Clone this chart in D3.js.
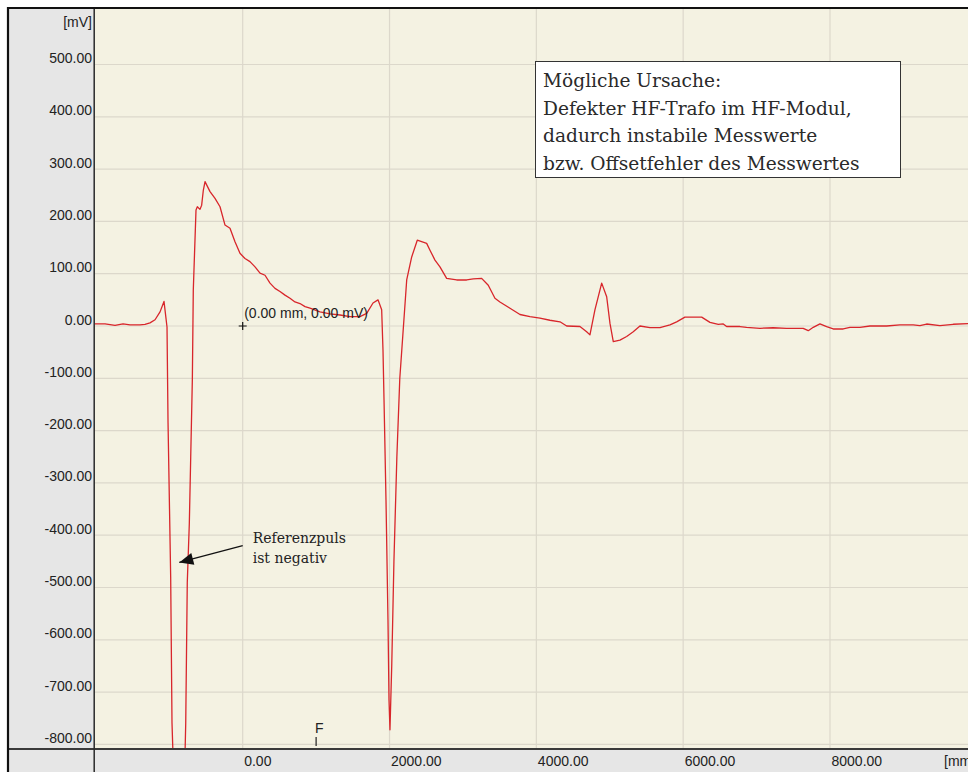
<!DOCTYPE html>
<meta charset="utf-8">
<style>
body { margin: 0; background: #fff; }
svg text { fill: #222; }
.tick-label { font: 14px "Liberation Sans", Arial, sans-serif; }
.grid line { stroke: #dcd8cb; stroke-width: 1.2; }
.note { font-family: "DejaVu Serif", serif; }
</style>
<svg width="968" height="772"></svg>
<script src="https://d3js.org/d3.v7.min.js"></script>
<script>

// echo curve
var positionMm = [-2100, -2012, -1875, -1739, -1630, -1535, -1399, -1331, -1263, -1194, -1126, -1072,
  -1031, -1017, -981, -963, -936, -810, -786, -776, -755, -727, -708, -686, -673,
  -636, -618, -582, -559, -536, -513, -445, -377, -309, -241, -173, -105, -37,
  31, 99, 168, 236, 304, 372, 440, 508, 576, 644, 712, 780, 849, 917, 1053, 1189,
  1325, 1461, 1598, 1689, 1775, 1843, 1893, 1911, 1925, 1952, 1979, 1993, 2006,
  2030, 2060, 2100, 2140, 2180, 2234, 2302, 2378, 2506, 2551, 2619, 2687, 2778,
  2915, 3051, 3141, 3255, 3345, 3436, 3504, 3641, 3777, 3913, 4049, 4185, 4322,
  4413, 4594, 4685, 4730, 4798, 4890, 4958, 5003, 5048, 5139, 5230, 5320, 5411,
  5547, 5684, 5820, 5911, 6024, 6252, 6365, 6478, 6546, 6592, 6773, 6864, 7046,
  7227, 7409, 7635, 7704, 7772, 7863, 7954, 8044, 8180, 8271, 8408, 8544, 8771,
  8952, 9134, 9225, 9316, 9497, 9678, 9879, 10200];

var amplitudeMv = [3, 4, 4, 1, 4, 2, 2, 3, 6, 12, 27, 47,
  -2, -185, -480, -759, -880, -880, -820, -759, -491, -377, -250, -103, 69,
  222, 228, 223, 231, 260, 276, 257, 244, 228, 193, 187, 161, 139,
  129, 123, 113, 101, 97, 82, 72, 66, 59, 53, 46, 43, 37, 34, 27, 23,
  21, 18, 18, 24, 44, 50, 31, -46, -141, -333, -562, -715, -772,
  -650, -450, -250, -100, -20, 88, 132, 164, 158, 145, 126, 113, 91,
  88, 88, 90, 91, 78, 53, 46, 34, 22, 18, 15, 11, 8,
  0, -1, -11, -17, 31, 82, 56, 5, -30, -27, -20, -11, 0,
  -3, -3, 2, 8, 17, 17, 7, 3, 4, -1, -1, -2.5, -4.4,
  -3.3, -4.4, -4.4, -9, -2.5, 4, -1.3, -5.7, -5.7, -2.5, -2.5, 0, 0,
  2, 2, 0.6, 3.8, 0.6, 3.3, 4.4, 3];

var xTicks = [0, 2000, 4000, 6000, 8000, 10000];
var yTicks = [500, 400, 300, 200, 100, 0, -100, -200, -300, -400, -500, -600, -700, -800];

var noteLines = ["Mögliche Ursache:", "Defekter HF-Trafo im HF-Modul,",
  "dadurch instabile Messwerte", "bzw. Offsetfehler des Messwertes"];
var arrowNote = ["Referenzpuls", "ist negativ"];

var svg = d3.select("svg");
var plot = {left: 95, top: 9, right: 968, bottom: 748};

var x = d3.scaleLinear().domain([0, 8000]).range([242.7, 830]);
var y = d3.scaleLinear().domain([-800, 500]).range([744.4, 64.5]);
var fmt = function(d) { return d.toFixed(2); };

// frame and panels
svg.append("rect").attr("x", 8).attr("y", 8).attr("width", 960).attr("height", 764)
    .attr("fill", "#e6e6e6");
svg.append("rect").attr("x", plot.left).attr("y", plot.top)
    .attr("width", plot.right - plot.left).attr("height", plot.bottom - plot.top)
    .attr("fill", "#f4f2e2");

svg.append("defs").append("clipPath").attr("id", "clip")
  .append("rect").attr("x", plot.left).attr("y", plot.top)
    .attr("width", plot.right - plot.left).attr("height", plot.bottom - plot.top);

var grid = svg.append("g").attr("class", "grid").attr("clip-path", "url(#clip)");
grid.selectAll(".gy").data(yTicks).enter().append("line")
    .attr("x1", plot.left).attr("x2", plot.right)
    .attr("y1", function(d) { return y(d); }).attr("y2", function(d) { return y(d); });
grid.selectAll(".gx").data(xTicks).enter().append("line")
    .attr("y1", plot.top).attr("y2", plot.bottom)
    .attr("x1", function(d) { return x(d); }).attr("x2", function(d) { return x(d); });

// dividers and outer frame
svg.append("line").attr("x1", 8).attr("x2", 968).attr("y1", 749).attr("y2", 749)
    .attr("stroke", "#3a3a3a").attr("stroke-width", 2);
svg.append("line").attr("x1", 94.2).attr("x2", 94.2).attr("y1", 8).attr("y2", 772)
    .attr("stroke", "#2a2a2a").attr("stroke-width", 1.5);
svg.append("path").attr("d", "M8,772V8H968")
    .attr("fill", "none").attr("stroke", "#111").attr("stroke-width", 2.2);

// axis labels
svg.selectAll(".ylab").data(yTicks).enter().append("text")
    .attr("class", "tick-label")
    .attr("x", 92).attr("y", function(d) { return y(d) - 1.5; })
    .attr("text-anchor", "end")
    .text(fmt);
svg.append("text").attr("class", "tick-label").attr("x", 92).attr("y", 27)
    .attr("text-anchor", "end").text("[mV]");

svg.selectAll(".xlab").data(xTicks.slice(0, 5)).enter().append("text")
    .attr("class", "tick-label")
    .attr("x", function(d) { return x(d) + 1.5; }).attr("y", 766)
    .text(fmt);
svg.append("text").attr("class", "tick-label").attr("x", 944).attr("y", 766).text("[mm]");

// echo curve
var points = positionMm.map(function(d, i) { return [d, amplitudeMv[i]]; });
svg.append("path").datum(points)
    .attr("clip-path", "url(#clip)")
    .attr("fill", "none").attr("stroke", "#d8262b").attr("stroke-width", 1.3)
    .attr("stroke-linejoin", "round")
    .attr("d", d3.line().x(function(d) { return x(d[0]); }).y(function(d) { return y(d[1]); }));

// cursor at origin
var cx = x(0), cy = y(0);
svg.append("path").attr("d", "M" + (cx - 4) + "," + cy + "H" + (cx + 4) + "M" + cx + "," + (cy - 4) + "V" + (cy + 4))
    .attr("stroke", "#111").attr("stroke-width", 1.2);
svg.append("text").attr("class", "tick-label").attr("x", cx + 1.5).attr("y", cy - 8)
    .text("(0.00 mm, 0.00 mV)");

// F marker
var fx = x(1000);
svg.append("text").attr("class", "tick-label").attr("x", fx - 1).attr("y", 733).text("F");
svg.append("line").attr("x1", fx).attr("x2", fx).attr("y1", 737).attr("y2", 746)
    .attr("stroke", "#222").attr("stroke-width", 1.2);

// note box
var box = svg.append("g");
box.append("rect").attr("x", 535.5).attr("y", 61.5).attr("width", 365).attr("height", 116)
    .attr("fill", "#fff").attr("stroke", "#333").attr("stroke-width", 1);
box.selectAll("text").data(noteLines).enter().append("text")
    .attr("class", "note").attr("font-size", 18.6).style("fill", "#2a2a2a")
    .attr("x", 543).attr("y", function(d, i) { return 87 + i * 27.5; })
    .text(function(d) { return d; });

// arrow annotation
var tail = [x(0), y(-420)], tip = [x(-864), y(-452)];
svg.append("line").attr("x1", tail[0]).attr("y1", tail[1]).attr("x2", tip[0]).attr("y2", tip[1])
    .attr("stroke", "#111").attr("stroke-width", 1.3);
var ang = Math.atan2(tip[1] - tail[1], tip[0] - tail[0]), L = 14, W = 6;
var bx = tip[0] - L * Math.cos(ang), by = tip[1] - L * Math.sin(ang);
svg.append("path")
    .attr("d", "M" + tip[0] + "," + tip[1] +
      "L" + (bx + W * Math.sin(ang)) + "," + (by - W * Math.cos(ang)) +
      "L" + (bx - W * Math.sin(ang)) + "," + (by + W * Math.cos(ang)) + "Z")
    .attr("fill", "#111");
svg.selectAll(".an").data(arrowNote).enter().append("text")
    .attr("class", "note").attr("font-size", 14)
    .attr("x", x(136)).attr("y", function(d, i) { return 542.5 + i * 20.5; })
    .text(function(d) { return d; });

</script>
